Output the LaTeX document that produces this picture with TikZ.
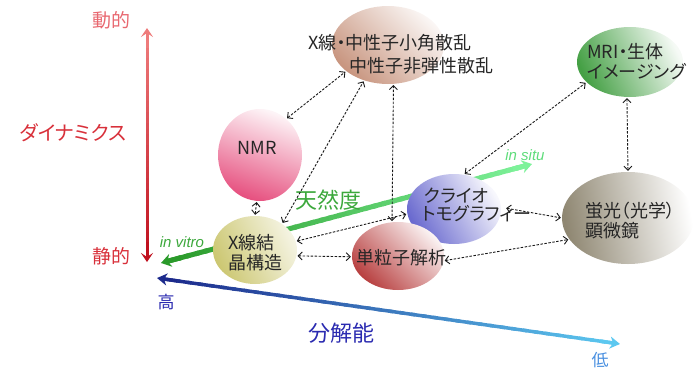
\documentclass[tikz,border=0pt]{standalone}
\usepackage{fontspec}
\setmainfont{Noto Sans CJK JP}[RawFeature={+palt}]
\newfontfamily\latit{Liberation Sans}
\usetikzlibrary{shapes.geometric,arrows.meta,calc}
\definecolor{redA}{HTML}{EE7B7B}
\definecolor{redB}{HTML}{C0101E}
\definecolor{grnA}{HTML}{2A9A2A}
\definecolor{grnB}{HTML}{7EF29A}
\definecolor{bluA}{HTML}{1C2A8C}
\definecolor{bluB}{HTML}{5CC8F0}
\definecolor{labred}{HTML}{D8303A}
\definecolor{labredl}{HTML}{E86870}
\definecolor{labgrn}{HTML}{3CA83C}
\definecolor{labgrnl}{HTML}{5EDC7A}
\definecolor{labblu}{HTML}{2A2AB0}
\definecolor{labblul}{HTML}{4A90E0}
\definecolor{cSaxs}{HTML}{C8957F}
\definecolor{cNmr}{HTML}{E6507F}
\definecolor{cMri}{HTML}{45A045}
\definecolor{cCryo}{HTML}{6A6ACF}
\definecolor{cFluo}{HTML}{8F8772}
\definecolor{cXtal}{HTML}{CCC772}
\definecolor{cSpa}{HTML}{B84040}
\newcommand{\gradline}[5]{%
  \foreach \i in {0,...,39}{%
    \pgfmathsetmacro\pa{\i/40}%
    \pgfmathsetmacro\pb{min(1,(\i+1.4)/40)}%
    \pgfmathtruncatemacro\pc{100*(\i+0.5)/40}%
    \draw[line width=#5, color=#4!\pc!#3] ($(#1)!\pa!(#2)$) -- ($(#1)!\pb!(#2)$);
  }}
\tikzset{
  blob/.style={ellipse, inner sep=0pt, draw=none},
  txt/.style={font=\fontsize{18}{22}\selectfont, text=black!85, inner sep=0pt},
  dlink/.style={draw=black!90, line width=0.9pt, dash pattern=on 2.5pt off 1.5pt,
    {Straight Barb[length=4pt,width=8pt]}-{Straight Barb[length=4pt,width=8pt]},
    shorten <=1pt, shorten >=1pt},
}
\begin{document}
\begin{tikzpicture}[x=1pt,y=-1pt]
\useasboundingbox (0,0) rectangle (699,368);
% axis coordinates
\coordinate (rT) at (147,28);
\coordinate (rB) at (147,262);
\coordinate (gL) at (161,263);
\coordinate (gR) at (532,164);
\coordinate (bL) at (157,278);
\coordinate (bR) at (620,344);
% red dynamics arrow
\gradline{$(rT)!8pt!(rB)$}{$(rB)!8pt!(rT)$}{redA}{redB}{3pt}
\draw[redA, line width=3pt, -{Stealth[length=9pt,width=12pt,inset=4pt]}] ($(rT)!20pt!(rB)$) -- (rT);
\draw[redB, line width=3pt, -{Stealth[length=9pt,width=12pt,inset=4pt]}] ($(rB)!20pt!(rT)$) -- (rB);
% green nativeness arrow
\gradline{$(gL)!8pt!(gR)$}{$(gR)!8pt!(gL)$}{grnA}{grnB}{5pt}
\draw[grnA, line width=5pt, -{Stealth[length=10pt,width=13pt]}] ($(gL)!20pt!(gR)$) -- (gL);
\draw[grnB, line width=5pt, -{Stealth[length=10pt,width=13pt]}] ($(gR)!20pt!(gL)$) -- (gR);
% blue resolution arrow
\gradline{$(bL)!8pt!(bR)$}{$(bR)!8pt!(bL)$}{bluA}{bluB}{3.5pt}
\draw[bluA, line width=3.5pt, -{Stealth[length=10pt,width=12pt,inset=3pt]}] ($(bL)!20pt!(bR)$) -- (bL);
\draw[bluB, line width=3.5pt, -{Stealth[length=10pt,width=12pt,inset=3pt]}] ($(bR)!20pt!(bL)$) -- (bR);
% axis labels
\node[txt, text=labredl, font=\fontsize{19}{22}\selectfont] (ldyn) at (111,20) {動的};
\node[txt, text=labred, font=\fontsize{19}{22}\selectfont] (lsta) at (111,256) {静的};
\node[txt, text=labred, font=\fontsize{20}{24}\selectfont] (ldy) at (73,133) {ダイナミクス};
\node[txt, text=labblu, font=\fontsize{17}{20}\selectfont] (lhi) at (166,302) {高};
\node[txt, text=labblul, font=\fontsize{17}{20}\selectfont] (llo) at (600,360) {低};
\node[txt, text=labblu, font=\fontsize{22}{26}\selectfont] (lres) at (341,333) {分解能};
\node[txt, text=labgrn, font=\fontsize{22}{26}\selectfont] (lnat) at (328,200) {天然度};
\node[txt, text=labgrn, font=\latit\itshape\fontsize{15}{18}\selectfont] (lvit) at (182,242) {in vitro};
\node[txt, text=labgrnl, font=\latit\itshape\fontsize{15}{18}\selectfont] (lsit) at (525,155) {in situ};
% blobs
\node[blob, minimum width=112pt, minimum height=78pt, top color=cSaxs, bottom color=cSaxs!8, shading angle=135] (saxs) at (388,45) {};
\node[blob, minimum width=84pt, minimum height=92pt, top color=cNmr, bottom color=cNmr!6, shading angle=160] (nmr) at (260,155) {};
\node[blob, minimum width=106pt, minimum height=70pt, top color=cMri, bottom color=cMri!5, shading angle=115] (mri) at (630,62) {};
\node[blob, minimum width=94pt, minimum height=70pt, top color=cCryo, bottom color=cCryo!5, shading angle=120] (cryo) at (454,209) {};
\node[blob, minimum width=132pt, minimum height=92pt, top color=cFluo, bottom color=white, shading angle=100] (fluo) at (628,218) {};
\node[blob, minimum width=84pt, minimum height=68pt, top color=cXtal, bottom color=cXtal!20, shading angle=115] (xtal) at (255,250) {};
\node[blob, minimum width=92pt, minimum height=68pt, top color=cSpa, bottom color=cSpa!6, shading angle=135] (spa) at (398,256) {};
% blob texts
\node[txt] (tsaxs1) at (390,43) {X線・中性子小角散乱};
\node[txt] (tsaxs2) at (421,66) {中性子非弾性散乱};
\node[txt] (tnmr) at (257,148) {NMR};
\node[txt, anchor=west] (tmri1) at (587,52) {MRI・生体};
\node[txt, anchor=west] (tmri2) at (587,72) {イメージング};
\node[txt, anchor=west] (tcryo1) at (424,196) {クライオ};
\node[txt, anchor=west] (tcryo2) at (422,214) {トモグラフィー};
\node[txt, anchor=west] (tfluo1) at (585,211) {蛍光（光学）};
\node[txt, anchor=west] (tfluo2) at (585,231) {顕微鏡};
\node[txt, anchor=west] (txtal1) at (228,243) {X線結};
\node[txt, anchor=west] (txtal2) at (228,263) {晶構造};
\node[txt] (tspa) at (401,258) {単粒子解析};
% dashed links
\draw[dlink] (nmr.54) -- (saxs.212);
\draw[dlink] (xtal.44) -- (saxs.236);
\draw[dlink] (spa.100) -- (saxs.278);
\draw[dlink] (nmr.266) -- (xtal.90);
\draw[dlink] (xtal.12) -- (cryo.186);
\draw[dlink] (xtal.352) -- (spa.181);
\draw[dlink] (cryo.74) -- (mri.205);
\draw[dlink] (mri.265) -- (fluo.90);
\draw[dlink] ($(cryo.east)+(4,-1)$) -- (fluo.180);
\draw[dlink] (spa.354) -- (fluo.200);
\end{tikzpicture}
\end{document}
